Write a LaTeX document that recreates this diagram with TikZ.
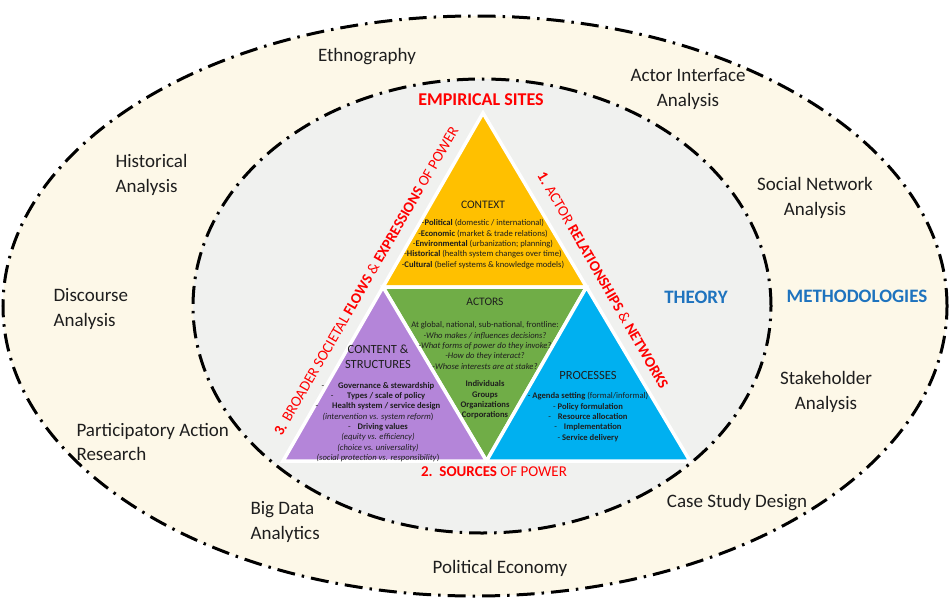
\documentclass[tikz,border=0pt]{standalone}
\usepackage{fontspec}
\setmainfont{Carlito}

\definecolor{cream}{HTML}{FDF8E8}
\definecolor{theorygrey}{HTML}{F0F1EF}
\definecolor{ctxyellow}{HTML}{FFC000}
\definecolor{actgreen}{HTML}{70AD47}
\definecolor{cspurple}{HTML}{B485D9}
\definecolor{procblue}{HTML}{00B0F0}
\definecolor{powerred}{HTML}{FF0000}
\definecolor{headblue}{HTML}{1E73BE}
\definecolor{inktext}{HTML}{1E1E1E}

\tikzset{
  dashring/.style={line width=3pt, dash pattern=on 18pt off 7pt on 2.5pt off 7pt},
  piece/.style={draw=white, line width=3.5pt, line join=miter},
  method/.style={text=inktext, font=\fontsize{19}{24.5}\selectfont},
  region/.style={text=headblue, font=\fontsize{19}{22}\selectfont\bfseries},
  sidelabel/.style={text=powerred, font=\fontsize{15}{17}\selectfont, inner sep=0pt},
  head/.style={text=inktext, align=center, font=\fontsize{11.5}{14.5}\selectfont},
  small/.style={text=inktext, align=center, font=\fontsize{8.6}{10.3}\selectfont},
}

\begin{document}
\begin{tikzpicture}[x=1pt,y=-1pt]
\useasboundingbox[fill=white] (0,0) rectangle (949,599);

% methodologies ring and theory ring
\draw[dashring, fill=cream] (475,306) ellipse [x radius=472pt, y radius=290pt];
\draw[dashring, fill=theorygrey] (482,306) ellipse [x radius=289pt, y radius=227pt];

% triangle corners
\coordinate (apex) at (483,113);
\coordinate (baseL) at (283,461);
\coordinate (baseR) at (690,461);
\coordinate (midL) at (383,287);
\coordinate (midR) at (586.5,287);
\coordinate (midB) at (486.5,461);

\filldraw[piece, fill=ctxyellow] (apex) -- (midL) -- (midR) -- cycle;
\filldraw[piece, fill=actgreen] (midL) -- (midR) -- (midB) -- cycle;
\filldraw[piece, fill=cspurple] (midL) -- (baseL) -- (midB) -- cycle;
\filldraw[piece, fill=procblue] (midR) -- (midB) -- (baseR) -- cycle;

% context
\node[head] (context) at (483,205) {CONTEXT};
\node[small] (contextlist) at (483,244) {%
-\textbf{Political} (domestic / international)\\
-\textbf{Economic} (market \& trade relations)\\
-\textbf{Environmental} (urbanization; planning)\\
-\textbf{Historical} (health system changes over time)\\
-\textbf{Cultural} (belief systems \& knowledge models)};

% actors
\node[head] (actors) at (485,302) {ACTORS};
\node[small] (actorsq) at (485,345.5) {%
At global, national, sub-national, frontline:\\
\textit{-Who makes / influences decisions?}\\
\textit{-What forms of power do they invoke?}\\
\textit{-How do they interact?}\\
\textit{-Whose interests are at stake?}};
\node[small, font=\fontsize{8.6}{10.3}\selectfont\bfseries] (actorsl) at (485,400) {%
Individuals\\ Groups\\ Organizations\\ Corporations};

% content and structures
\node[head, font=\fontsize{12.5}{15}\selectfont] (content) at (378,357) {CONTENT \&\\ STRUCTURES};
\node[small] (contentlist) at (378,422) {%
-\hspace{1.6em}\textbf{Governance \& stewardship}\\
-\hspace{1.6em}\textbf{Types / scale of policy}\\
-\hspace{1.6em}\textbf{Health system / service design}\\
\textit{(intervention vs. system reform})\\
-\hspace{0.8em}\textbf{Driving values}\\
\textit{(equity vs. efficiency)}\\
\textit{(choice vs. universality)}\\
\textit{(social protection vs. responsibility})};

% processes
\node[head, font=\fontsize{12.5}{15}\selectfont] (processes) at (588,375) {PROCESSES};
\node[small] (processlist) at (588,417) {%
- \textbf{Agenda setting} (formal/informal)\\
- \textbf{Policy formulation}\\
-\hspace{0.8em}\textbf{Resource allocation}\\
-\hspace{0.8em}\textbf{Implementation}\\
- \textbf{Service delivery}};

% side labels
\node[sidelabel, font=\fontsize{18}{20}\selectfont\bfseries] (sites) at (481,100) {EMPIRICAL SITES};
\node[sidelabel, rotate=-60] (relations) at (603,280) {\textbf{1.} ACTOR \textbf{RELATIONSHIPS} \& \textbf{NETWORKS}};
\node[sidelabel] (sources) at (494,472) {\textbf{2.\ \ SOURCES} OF POWER};
\node[sidelabel, rotate=60] (flows) at (366,281) {\textbf{3.} BROADER SOCIETAL \textbf{FLOWS} \& \textbf{EXPRESSIONS} OF POWER};

\node[region] (theory) at (696,297) {THEORY};
\node[region] (methods) at (857,296) {METHODOLOGIES};

% methods round the ring
\node[method] (ethno) at (367,57) {Ethnography};
\node[method, align=center] (interface) at (688,89) {Actor Interface\\ Analysis};
\node[method, align=left, anchor=west] (historical) at (112,175) {Historical\\ Analysis};
\node[method, align=center] (network) at (815,198) {Social Network\\ Analysis};
\node[method, align=left, anchor=west] (discourse) at (50,309) {Discourse\\ Analysis};
\node[method, align=center] (stake) at (826,392) {Stakeholder\\ Analysis};
\node[method, align=left, anchor=west] (participatory) at (73,442) {Participatory Action\\ Research};
\node[method, align=left, anchor=west] (bigdata) at (247,522) {Big Data\\ Analytics};
\node[method] (casestudy) at (737,503) {Case Study Design};
\node[method] (polecon) at (500,568) {Political Economy};

\end{tikzpicture}
\end{document}
